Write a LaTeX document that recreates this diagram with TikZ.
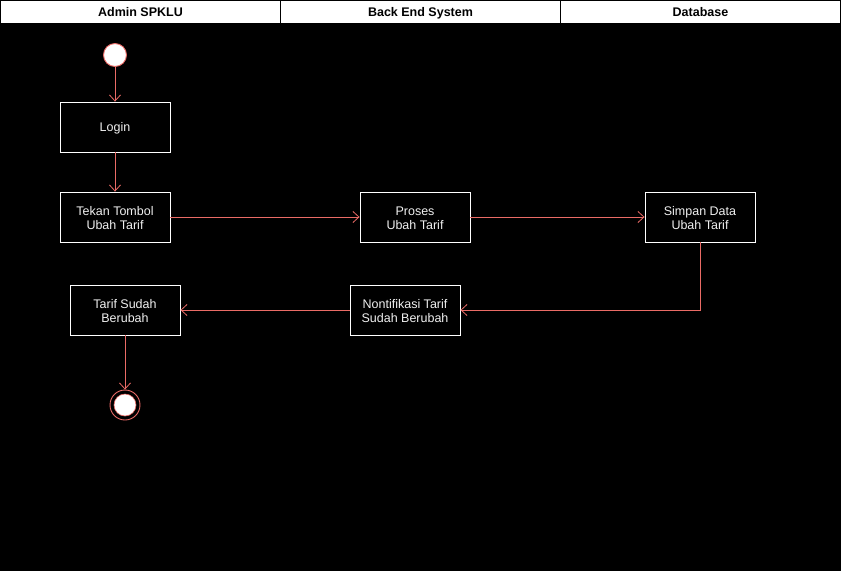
\documentclass[tikz,border=0pt]{standalone}
\usepackage{fontspec}
\setmainfont{Liberation Sans}
\usetikzlibrary{arrows.meta}
\definecolor{flow}{HTML}{EA6B66}
\definecolor{boxtext}{HTML}{F0F0F0}
\begin{document}
\begin{tikzpicture}[x=1pt,y=-1pt,
  lanehead/.style={draw=black,fill=white,line width=0.8pt,minimum height=23pt,inner sep=0pt,
    text height=9pt,text depth=0pt,
    font=\fontsize{12.5}{15}\selectfont\bfseries,text=black},
  action/.style={draw=white,line width=0.9pt,fill=black,minimum width=110pt,minimum height=50pt,
    inner sep=0pt,align=center,text=boxtext,font=\fontsize{12.5}{14}\selectfont},
  flowline/.style={draw=flow,line width=0.8pt,-{Straight Barb[length=6pt,width=11pt,line width=0.8pt]}}]
% canvas
\fill[black] (0,0) rectangle (841,571);
\useasboundingbox (0,0) rectangle (841,571);
% swimlane headers
\node[lanehead,minimum width=280pt] (laneA) at (140.5,11.5) {Admin SPKLU};
\node[lanehead,minimum width=280pt] (laneB) at (420.5,11.5) {Back End System};
\node[lanehead,minimum width=280pt] (laneC) at (700.5,11.5) {Database};
% start and end
\node[circle,draw=flow,fill=white,line width=0.9pt,minimum size=23pt,inner sep=0pt] (start) at (115,55) {};
\node[circle,draw=flow,line width=0.9pt,minimum size=30pt,inner sep=0pt] (stop) at (125,405) {};
\node[circle,draw=flow,fill=white,line width=0.6pt,minimum size=22pt,inner sep=0pt] (stopcore) at (125,405) {};
% actions
\node[action] (login) at (115,127) {\rule{0pt}{12pt}Login};
\node[action] (tekan) at (115,217) {\rule{0pt}{12pt}Tekan Tombol\\ Ubah Tarif};
\node[action] (proses) at (415,217) {\rule{0pt}{12pt}Proses\\ Ubah Tarif};
\node[action] (simpan) at (700,217) {\rule{0pt}{12pt}Simpan Data\\ Ubah Tarif};
\node[action] (notif) at (405,310) {\rule{0pt}{12pt}Nontifikasi Tarif\\ Sudah Berubah};
\node[action] (sudah) at (125,310) {\rule{0pt}{12pt}Tarif Sudah\\ Berubah};
% flow
\draw[flowline] (start) -- (login);
\draw[flowline] (login) -- (tekan);
\draw[flowline] (tekan) -- (proses);
\draw[flowline] (proses) -- (simpan);
\draw[flowline] (simpan.south) |- (notif.east);
\draw[flowline] (notif) -- (sudah);
\draw[flowline] (sudah) -- (stop);
\end{tikzpicture}
\end{document}
